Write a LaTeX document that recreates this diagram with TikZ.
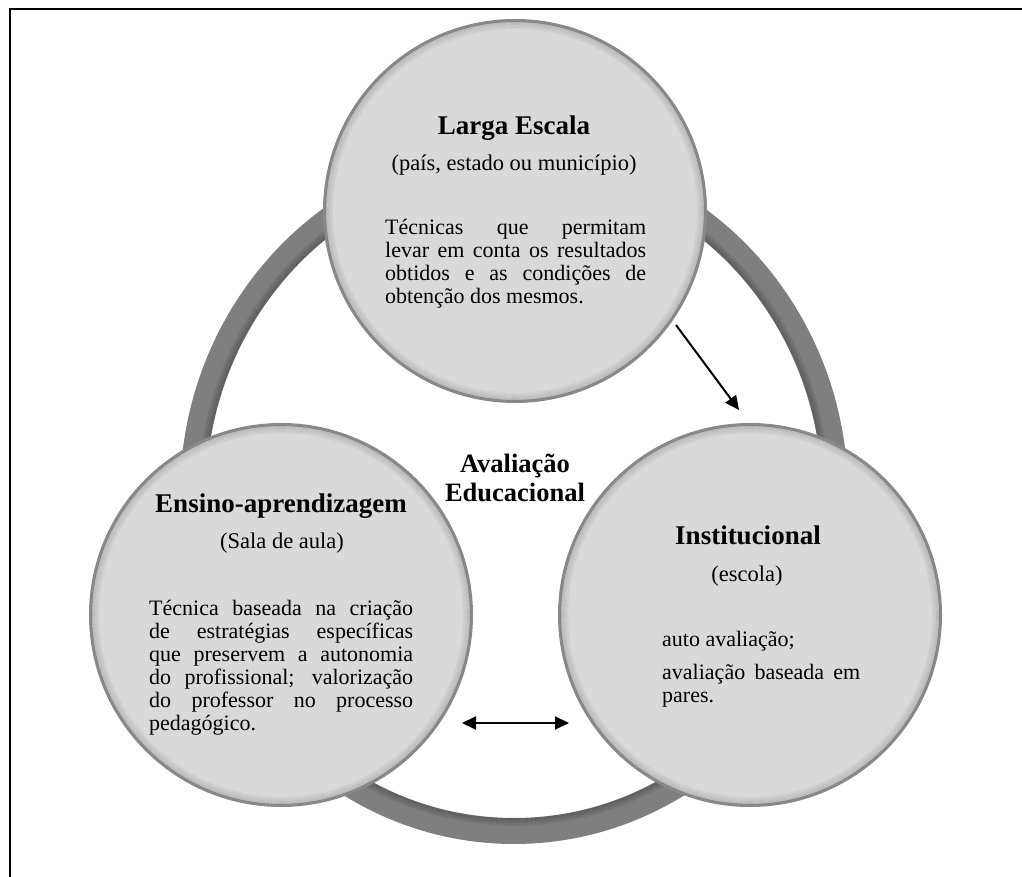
\documentclass[tikz,border=0pt]{standalone}
\usepackage{fontspec}
\setmainfont{Liberation Serif}
\usetikzlibrary{arrows.meta}

\definecolor{ringgray}{RGB}{127,127,127}
\definecolor{ballfill}{RGB}{217,217,217}
\definecolor{balledge}{RGB}{137,137,137}
\tolerance=10000

\begin{document}
\begin{tikzpicture}[x=1pt,y=1pt]
\tikzstyle{every node}=[inner sep=0pt]
\tikzstyle{ball}=[circle,draw=balledge,line width=3pt,fill=ballfill,minimum size=381pt]
\tikzstyle{title}=[font=\fontsize{27}{29}\selectfont\bfseries,anchor=base]
\tikzstyle{sub}=[font=\fontsize{22.5}{24}\selectfont,anchor=base]
\tikzstyle{body}=[font=\fontsize{22}{23}\selectfont,anchor=base west,align=justify]
\tikzstyle{flow}=[line width=2pt,-{Triangle[length=14pt,width=13pt]}]
%\draw [red!40](0,0) grid[step=50] (1022,877);

\useasboundingbox (0,0) rectangle (1022,877);
\draw[line width=2.5pt] (10,0) -- (10,868) -- (1022,868);

% ring behind the circles
\draw[ringgray,line width=26pt] (514,382) ellipse [x radius=321, y radius=336];
\foreach \i in {0,...,4}
  \draw[black,opacity=0.22-0.04*\i,line width=1.6pt] (514,382) ellipse [x radius=309+1.5*\i, y radius=324+1.5*\i];

\node[ball] (larga) at (515,666) {};
\node[ball] (ensino) at (281,262) {};
\node[ball] (inst) at (750,262) {};
% soft inner shadow
\foreach \n in {larga,ensino,inst}
  \foreach \i in {0,...,4}
    \draw[black,opacity=0.12-0.022*\i,line width=1.6pt] (\n.center) circle (188.5-1.5*\i);

\node[font=\fontsize{26.5}{29}\selectfont\bfseries,anchor=base,text width=200pt,align=center] (aval) at (515,404) {Avaliação\\Educacional};

% top
\node[title] (largaT) at (514,742) {Larga Escala};
\node[sub] (largaS) at (514,706) {(país, estado ou município)};
\node[body,text width=261pt] (largaB) at (385,642) {Técnicas que permitam\linebreak levar em conta os resultados\linebreak obtidos e as condições de\linebreak obtenção dos mesmos.};

% left
\node[title] (ensinoT) at (281,364) {Ensino-aprendizagem};
\node[sub] (ensinoS) at (282,328) {(Sala de aula)};
\node[body,text width=264pt] (ensinoB) at (149,261) {Técnica baseada na criação\linebreak de estratégias específicas\linebreak que preservem a autonomia\linebreak do profissional; valorização\linebreak do professor no processo\linebreak pedagógico.};

% right
\node[title] (instT) at (748,332) {Institucional};
\node[sub] (instS) at (747,295) {(escola)};
\node[body,text width=198pt] (instB) at (662,230) {auto avaliação;\par\vspace{10pt}avaliação baseada em\linebreak pares.};

\coordinate (a1) at (676,552);
\coordinate (a2) at (739,467);
\draw[flow] (a1) -- (a2);
\coordinate (b1) at (462,154);
\coordinate (b2) at (569,154);
\draw[flow,{Triangle[length=14pt,width=13pt]}-{Triangle[length=14pt,width=13pt]}] (b1) -- (b2);
\end{tikzpicture}
\end{document}
